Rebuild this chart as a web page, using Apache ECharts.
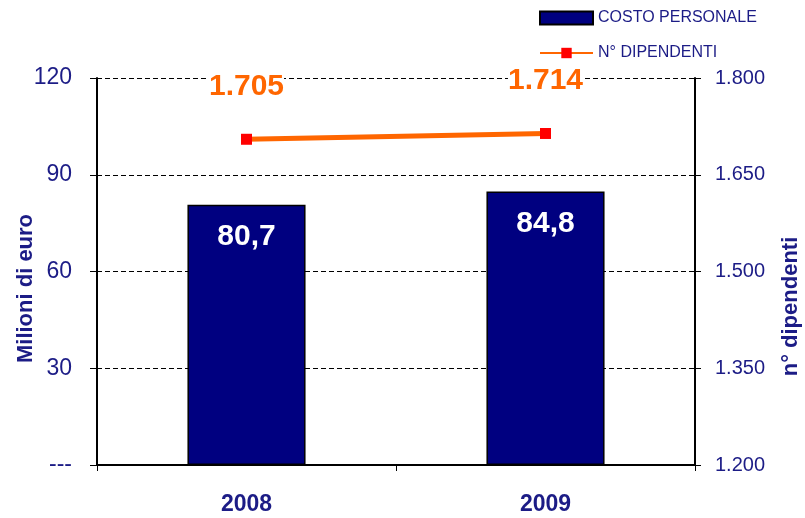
<!DOCTYPE html>
<html>
<head>
<meta charset="utf-8">
<script src="https://cdn.jsdelivr.net/npm/echarts@6/dist/echarts.min.js"></script>
<style>
  html, body { margin: 0; padding: 0; background: #fff; }
  #chart { width: 805px; height: 518px; }
</style>
</head>
<body>
<div id="chart"></div>
<script>
var years = ["2008", "2009"];
var costoPersonale = [80.7, 84.8];
var numDipendenti = [1705, 1714];

var navy = "#1c1c86";
var chart = echarts.init(document.getElementById("chart"));

function thousands(v) {
  var s = String(Math.round(v));
  return s.replace(/\B(?=(\d{3})+(?!\d))/g, ".");
}

chart.setOption({
  animation: false,
  textStyle: { fontFamily: "Liberation Sans" },
  grid: { left: 97, right: 110, top: 78, bottom: 53, outerBoundsMode: "none", containLabel: false },
  legend: {
    orient: "vertical",
    left: 539,
    top: 10,
    padding: 0,
    itemWidth: 53,
    itemHeight: 13,
    itemGap: 19,
    textStyle: { color: navy, fontSize: 16 },
    data: [
      { name: "COSTO PERSONALE", icon: "rect" },
      { name: "N° DIPENDENTI" }
    ]
  },
  xAxis: {
    type: "category",
    data: years,
    axisLine: { lineStyle: { color: "#000", width: 2 } },
    axisTick: { show: true, length: 6, lineStyle: { color: "#000" } },
    axisLabel: { color: navy, fontSize: 23, fontWeight: "bold", margin: 28 }
  },
  yAxis: [
    {
      type: "value",
      min: 0,
      max: 120,
      interval: 30,
      name: "Milioni di euro",
      nameLocation: "middle",
      nameGap: 60,
      nameMoveOverlap: false,
      nameTextStyle: { color: navy, fontSize: 22, fontWeight: "bold", padding: [0, 34, 0, 0] },
      axisLine: { show: true, lineStyle: { color: "#000", width: 2 } },
      axisTick: { show: true, length: 7, lineStyle: { color: "#000" } },
      axisLabel: {
        color: navy, fontSize: 23, margin: 25,
        formatter: function (v) { return v === 0 ? "---" : v; }
      },
      splitLine: { show: true, lineStyle: { color: "#000", type: [5, 3], width: 1 } }
    },
    {
      type: "value",
      min: 1200,
      max: 1800,
      interval: 150,
      position: "right",
      name: "n° dipendenti",
      nameLocation: "middle",
      nameGap: 85,
      nameRotate: 90,
      nameTextStyle: { color: navy, fontSize: 22, fontWeight: "bold", padding: [0, 70, 0, 0] },
      axisLine: { show: true, lineStyle: { color: "#000", width: 2 } },
      axisTick: { show: true, length: 6, lineStyle: { color: "#000" } },
      axisLabel: { color: navy, fontSize: 20, margin: 20, formatter: thousands },
      splitLine: { show: false }
    }
  ],
  series: [
    {
      name: "COSTO PERSONALE",
      type: "bar",
      data: costoPersonale,
      barWidth: "39.5%",
      itemStyle: { color: "#000080", borderColor: "#000", borderWidth: 1.5 },
      label: {
        show: true,
        position: "insideTop",
        distance: 17,
        color: "#fff",
        fontSize: 30,
        fontWeight: "bold",
        formatter: function (p) { return String(p.value).replace(".", ","); }
      }
    },
    {
      name: "N° DIPENDENTI",
      type: "line",
      yAxisIndex: 1,
      data: numDipendenti,
      symbol: "rect",
      symbolSize: 11,
      lineStyle: { color: "#ff6600", width: 5 },
      itemStyle: { color: "#ff0000" },
      label: {
        show: true,
        position: "top",
        distance: 32,
        color: "#ff6600",
        fontSize: 30,
        fontWeight: "bold",
        backgroundColor: "#fff",
        formatter: function (p) { return thousands(p.value); }
      }
    }
  ]
});
</script>
</body>
</html>
